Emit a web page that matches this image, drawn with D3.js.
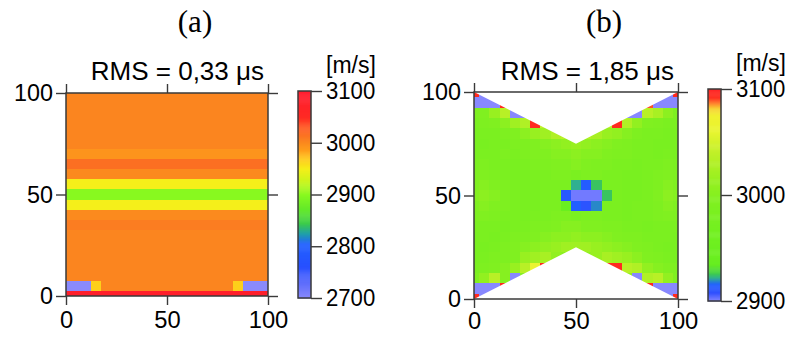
<!DOCTYPE html>
<html>
<head>
<meta charset="utf-8">
<script src="https://cdn.jsdelivr.net/npm/d3@7"></script>
<style>
  body { margin: 0; background: #fff; }
  text { font-family: "Liberation Sans", Arial, sans-serif; fill: #000; }
</style>
</head>
<body>
<svg id="fig" width="790" height="338"></svg>
<script>
'use strict';

// cell centres of the 5 m model grid (x left->right, y top->bottom)
const gridX = [0, 5, 10, 15, 20, 25, 30, 35, 40, 45, 50, 55, 60, 65, 70, 75, 80, 85, 90, 95, 100];
const gridY = [100, 95, 90, 85, 80, 75, 70, 65, 60, 55, 50, 45, 40, 35, 30, 25, 20, 15, 10, 5, 0];
const axisTicks = [0, 50, 100];

// (a) full coverage, layered model
const velocityA = [
  [3003,3003,3003,3003,3003,3003,3003,3003,3003,3003,3003,3003,3003,3003,3003,3003,3003,3003,3003,3003,3003],
  [3003,3003,3003,3003,3003,3003,3003,3003,3003,3003,3003,3003,3003,3003,3003,3003,3003,3003,3003,3003,3003],
  [3003,3003,3003,3003,3003,3003,3003,3003,3003,3003,3003,3003,3003,3003,3003,3003,3003,3003,3003,3003,3003],
  [3003,3003,3003,3003,3003,3003,3003,3003,3003,3003,3003,3003,3003,3003,3003,3003,3003,3003,3003,3003,3003],
  [3003,3003,3003,3003,3003,3003,3003,3003,3003,3003,3003,3003,3003,3003,3003,3003,3003,3003,3003,3003,3003],
  [3003,3003,3003,3003,3003,3003,3003,3003,3003,3003,3003,3003,3003,3003,3003,3003,3003,3003,3003,3003,3003],
  [2993,2993,2993,2993,2993,2993,2993,2993,2993,2993,2993,2993,2993,2993,2993,2993,2993,2993,2993,2993,2993],
  [3017,3017,3017,3017,3017,3017,3017,3017,3017,3017,3017,3017,3017,3017,3017,3017,3017,3017,3017,3017,3017],
  [3000,3000,3000,3000,3000,3000,3000,3000,3000,3000,3000,3000,3000,3000,3000,3000,3000,3000,3000,3000,3000],
  [2950,2950,2950,2950,2950,2950,2950,2950,2950,2950,2950,2950,2950,2950,2950,2950,2950,2950,2950,2950,2950],
  [2900,2900,2900,2900,2900,2900,2900,2900,2900,2900,2900,2900,2900,2900,2900,2900,2900,2900,2900,2900,2900],
  [2950,2950,2950,2950,2950,2950,2950,2950,2950,2950,2950,2950,2950,2950,2950,2950,2950,2950,2950,2950,2950],
  [3000,3000,3000,3000,3000,3000,3000,3000,3000,3000,3000,3000,3000,3000,3000,3000,3000,3000,3000,3000,3000],
  [3008,3008,3008,3008,3008,3008,3008,3008,3008,3008,3008,3008,3008,3008,3008,3008,3008,3008,3008,3008,3008],
  [3003,3003,3003,3003,3003,3003,3003,3003,3003,3003,3003,3003,3003,3003,3003,3003,3003,3003,3003,3003,3003],
  [3003,3003,3003,3003,3003,3003,3003,3003,3003,3003,3003,3003,3003,3003,3003,3003,3003,3003,3003,3003,3003],
  [3003,3003,3003,3003,3003,3003,3003,3003,3003,3003,3003,3003,3003,3003,3003,3003,3003,3003,3003,3003,3003],
  [3003,3003,3003,3003,3003,3003,3003,3003,3003,3003,3003,3003,3003,3003,3003,3003,3003,3003,3003,3003,3003],
  [3003,3003,3003,3003,3003,3003,3003,3003,3003,3003,3003,3003,3003,3003,3003,3003,3003,3003,3003,3003,3003],
  [2700,2700,2700,2966,3003,3003,3003,3003,3003,3003,3003,3003,3003,3003,3003,3003,3003,2966,2700,2700,2700],
  [3085,3085,3085,3085,3085,3085,3085,3085,3085,3085,3085,3085,3085,3085,3085,3085,3085,3085,3085,3085,3085]
];

// (b) limited ray coverage; null = cell not covered
const n = null;
const velocityB = [
  [3095,2900,n,n,n,n,n,n,n,n,n,n,n,n,n,n,n,n,n,2900,3095],
  [2900,2900,2900,3095,n,n,n,n,n,n,n,n,n,n,n,n,n,3090,2900,2900,2900],
  [2990,2995,3015,3035,2900,2900,n,n,n,n,n,n,n,n,n,2900,2900,3035,3025,3005,2990],
  [2985,2990,2995,3005,3020,3030,3095,3040,n,n,n,n,n,3035,3095,3030,3010,2995,2990,2985,2985],
  [2980,2985,2985,2990,2995,3005,3015,3020,3030,3035,n,3030,3025,3015,3010,3000,2990,2985,2985,2980,2980],
  [2980,2980,2985,2985,2990,2990,2995,3000,3005,3010,3015,3010,3005,3000,2995,2990,2985,2985,2980,2980,2980],
  [2980,2985,2985,2990,2985,2990,2995,2995,3000,3000,3005,3000,3000,2995,2990,2990,2985,2985,2980,2985,2980],
  [2985,2990,2985,2985,2980,2985,2990,2990,2995,2995,3000,2995,2990,2990,2985,2985,2980,2985,2985,2990,2985],
  [2990,2995,2990,2985,2980,2980,2985,2985,2990,2990,2985,2990,2990,2985,2985,2980,2980,2985,2990,2995,2990],
  [2995,3000,2995,2990,2985,2980,2980,2985,2985,2985,2922,2914,2925,2985,2985,2980,2980,2985,2990,3000,2995],
  [3000,3005,3000,2990,2985,2980,2980,2985,2985,2912,2902,2902,2902,2925,2985,2980,2980,2985,2995,3005,3000],
  [2995,3000,2995,2990,2985,2980,2980,2985,2985,2940,2915,2910,2919,2985,2985,2980,2985,2985,2990,3000,2995],
  [2990,2995,2990,2985,2985,2980,2985,2985,2990,2990,2985,2990,2990,2985,2985,2980,2985,2985,2990,2995,2990],
  [2985,2985,2985,2980,2985,2985,2990,2990,2995,3000,3000,2995,2995,2990,2990,2985,2985,2980,2985,2985,2985],
  [2980,2985,2980,2985,2990,2990,2995,3000,3005,3005,3010,3005,3005,3000,2995,2990,2990,2985,2985,2985,2980],
  [2980,2980,2985,2990,2995,3000,3005,3010,3015,3020,3020,3020,3015,3010,3005,3000,2995,2990,2985,2980,2980],
  [2980,2985,2990,2990,2995,3015,3020,3025,3010,3005,n,3010,3015,3025,3020,3015,3005,2995,2990,2985,2980],
  [2985,2990,2995,3000,3015,3035,3065,3095,n,n,n,n,n,3095,3095,3035,3030,3010,3000,2995,2990],
  [2995,3010,3035,3000,2900,3000,n,n,n,n,n,n,n,n,n,3010,2900,3030,3035,3010,2995],
  [2900,2900,2900,3095,n,n,n,n,n,n,n,n,n,n,n,n,n,3095,2900,2900,2900],
  [3095,2900,n,n,n,n,n,n,n,n,n,n,n,n,n,n,n,n,n,2900,3095]
];
const coverageB = [[0, 0], [0, 100], [50, 75], [100, 100], [100, 0], [50, 25]];

// colour tables
const stopsA = [2700, 2730, 2760, 2805, 2825, 2845, 2870, 2900, 2925, 2950, 2970, 2985, 3000, 3010, 3030, 3050, 3100];
const coloursA = ["#8a8afc", "#5c6cfc", "#2850ff", "#2060ff", "#20a0a8", "#3ccc48", "#60e82a", "#88f91f", "#c8f51c",
                  "#f5ef1a", "#ffc81a", "#ffa01a", "#fb8a1e", "#fb7a22", "#ff5a22", "#ff2a24", "#ff1a2e"];
const stopsB = [2900, 2908, 2916, 2922, 2927, 2935, 2960, 2995, 3015, 3040, 3060, 3075, 3082, 3087, 3092, 3100];
const coloursB = ["#8888ff", "#3050ff", "#2060ff", "#30b090", "#40d040", "#68ee20", "#70f020", "#80f020", "#98f020",
                  "#c0f028", "#e8f530", "#f0f030", "#f8d030", "#ff8030", "#ff3020", "#ff2020"];
const barTicksA = [2700, 2800, 2900, 3000, 3100];
const barTicksB = [2900, 3000, 3100];

const panelTitles = ["(a)", "(b)"];
const rmsLabels = ["RMS = 0,33 \u03bcs", "RMS = 1,85 \u03bcs"];
const unitLabel = "[m/s]";

const svg = d3.select("#fig");
svg.append("rect").attr("width", 790).attr("height", 338).attr("fill", "#fff");

function styleTicks(sel, size, charWidth) {
  sel.select(".domain").remove();
  sel.selectAll(".tick line").attr("stroke", "#3a3a3a").attr("stroke-width", 1.4);
  sel.selectAll(".tick text")
    .attr("font-size", size)
    .attr("font-family", "Liberation Sans, Arial, sans-serif")
    .attr("fill", "#000")
    .each(function() {
      const t = d3.select(this);
      if (t.text()) t.attr("textLength", t.text().length * charWidth).attr("lengthAdjust", "spacingAndGlyphs");
    });
}

function drawPanel(cfg) {
  const x = d3.scaleLinear().domain([0, 100]).range([cfg.left, cfg.right]);
  const y = d3.scaleLinear().domain([0, 100]).range([cfg.bottom, cfg.top]);
  const colour = d3.scaleLinear().domain(cfg.stops).range(cfg.colours).clamp(true);

  const cells = [];
  cfg.grid.forEach(function(row, i) {
    row.forEach(function(v, j) {
      if (v !== null) cells.push({ cx: gridX[j], cy: gridY[i], v: v });
    });
  });

  const layer = svg.append("g");
  if (cfg.cover) {
    svg.append("clipPath").attr("id", cfg.id + "-clip")
      .append("path")
      .attr("d", d3.line().x(d => x(d[0])).y(d => y(d[1]))(cfg.cover) + "Z");
    layer.attr("clip-path", "url(#" + cfg.id + "-clip)");
  }
  layer.selectAll("rect").data(cells).join("rect")
    .attr("x", d => x(Math.max(0, d.cx - 2.5)))
    .attr("y", d => y(Math.min(100, d.cy + 2.5)))
    .attr("width", d => x(Math.min(100, d.cx + 2.5)) - x(Math.max(0, d.cx - 2.5)))
    .attr("height", d => y(Math.max(0, d.cy - 2.5)) - y(Math.min(100, d.cy + 2.5)))
    .attr("fill", d => colour(d.v))
    .attr("shape-rendering", "crispEdges");

  // frame and ticks on all four sides
  svg.append("rect")
    .attr("x", x(0)).attr("y", y(100))
    .attr("width", x(100) - x(0)).attr("height", y(0) - y(100))
    .attr("fill", "none").attr("stroke", "#3a3a3a").attr("stroke-width", 1.5);

  svg.append("g").attr("transform", "translate(" + x(0) + ",0)")
    .call(d3.axisLeft(y).tickValues(axisTicks).tickSize(10).tickPadding(3).tickFormat(d3.format("d")))
    .call(styleTicks, 24, 13);
  svg.append("g").attr("transform", "translate(0," + y(0) + ")")
    .call(d3.axisBottom(x).tickValues(axisTicks).tickSize(9).tickPadding(cfg.xPad).tickFormat(d3.format("d")))
    .call(styleTicks, 24, 13.2);
  svg.append("g").attr("transform", "translate(0," + y(100) + ")")
    .call(d3.axisTop(x).tickValues(axisTicks).tickSize(9).tickFormat(""))
    .call(styleTicks, 24, 12);
  svg.append("g").attr("transform", "translate(" + x(100) + ",0)")
    .call(d3.axisRight(y).tickValues(axisTicks).tickSize(10).tickFormat(""))
    .call(styleTicks, 24, 12);

  // colour bar
  const bar = d3.scaleLinear().domain(d3.extent(cfg.stops)).range([cfg.barBottom, cfg.barTop]);
  const lo = cfg.stops[0], hi = cfg.stops[cfg.stops.length - 1];
  const step = (hi - lo) / 200;
  svg.append("g").selectAll("rect").data(d3.range(lo, hi, step)).join("rect")
    .attr("x", cfg.barX).attr("width", cfg.barW)
    .attr("y", d => bar(d + step))
    .attr("height", d => bar(d) - bar(d + step) + 0.5)
    .attr("fill", d => colour(d + step / 2));
  svg.append("rect")
    .attr("x", cfg.barX).attr("y", cfg.barTop)
    .attr("width", cfg.barW).attr("height", cfg.barBottom - cfg.barTop)
    .attr("fill", "none").attr("stroke", "#3a3a3a").attr("stroke-width", 1.5);
  svg.append("g").attr("transform", "translate(" + (cfg.barX + cfg.barW) + ",0)")
    .call(d3.axisRight(bar).tickValues(cfg.barTicks).tickSize(11).tickPadding(4).tickFormat(d3.format("d")))
    .call(styleTicks, 23, 12.3);

  svg.append("text")
    .attr("x", cfg.barX + cfg.barW + 15).attr("y", cfg.barTop - 18)
    .attr("font-size", 23)
    .text(unitLabel);

  svg.append("text")
    .attr("x", x(100) - 4).attr("y", 80)
    .attr("text-anchor", "end")
    .attr("font-size", 26)
    .text(cfg.rms);

  svg.append("text")
    .attr("x", cfg.titleX).attr("y", 32)
    .attr("text-anchor", "middle")
    .attr("font-size", 31)
    .style("font-family", "'Liberation Serif', 'DejaVu Serif', serif")
    .text(cfg.title);
}

drawPanel({
  id: "pa", grid: velocityA, cover: null,
  left: 66, right: 268, top: 93, bottom: 296, xPad: 6,
  stops: stopsA, colours: coloursA, barTicks: barTicksA,
  barX: 298, barW: 13, barTop: 91, barBottom: 298,
  rms: rmsLabels[0], title: panelTitles[0], titleX: 195
});

drawPanel({
  id: "pb", grid: velocityB, cover: coverageB,
  left: 474, right: 678, top: 92, bottom: 299, xPad: 4,
  stops: stopsB, colours: coloursB, barTicks: barTicksB,
  barX: 708, barW: 13, barTop: 89, barBottom: 301,
  rms: rmsLabels[1], title: panelTitles[1], titleX: 604
});
</script>
</body>
</html>
